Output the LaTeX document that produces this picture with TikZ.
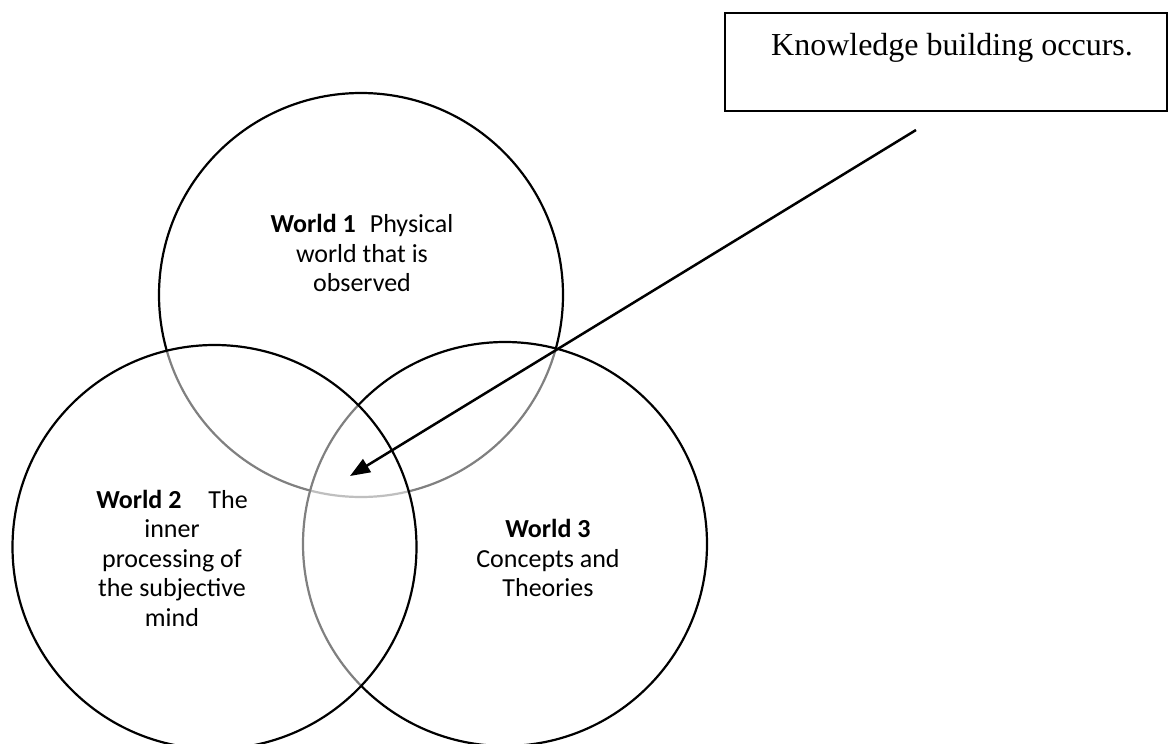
\documentclass[tikz,border=0pt]{standalone}
\usepackage{fontspec}
\setmainfont{Carlito}
\newfontfamily\timesfont{Liberation Serif}
\usetikzlibrary{arrows.meta,calc}
\tikzset{
  world/.style={circle, draw=black, line width=2.2pt, minimum size=404pt, inner sep=0pt},
  veil/.style={fill=white, fill opacity=0.5},
  wtext/.style={align=center, inner sep=0pt, font=\fontsize{26}{29.5}\selectfont},
  kbox/.style={draw=black, line width=2.5pt, minimum width=442pt, minimum height=98pt, inner sep=0pt},
  kbtext/.style={inner sep=0pt, font=\timesfont\fontsize{32}{38}\selectfont},
  pointer/.style={line width=2.5pt, -{Triangle[length=20pt,width=15pt]}},
}
\begin{document}
\begin{tikzpicture}[x=1pt,y=-1pt]
\useasboundingbox (0,0) rectangle (1168,744);
% circles: World 1 first, then World 3 and World 2 veiling it
\node[world] (w1) at (361,295) {};
\node[world, veil] (w3) at (505,544) {};
\node[world, veil] (w2) at (214.5,547) {};
% texts
\node[wtext] (t1) at (362,253) {\textbf{World 1}\hspace{14pt}Physical\\world that is\\observed};
\node[wtext] (t2) at (172,558) {\textbf{World 2}\hspace{27pt}The\\inner\\processing of\\the subjective\\mind};
\node[wtext] (t3) at (548,558) {\textbf{World 3}\\Concepts and\\Theories};
% box
\node[kbox] (kb) at (946,62) {};
\node[kbtext, anchor=base] (kbt) at ($(kb.center)+(6,-7)$) {Knowledge building occurs.};
% arrow
\coordinate (ktail) at (916,130);
\coordinate (kpoint) at (350,476);
\draw[pointer] (ktail) -- (kpoint);
\end{tikzpicture}
\end{document}
